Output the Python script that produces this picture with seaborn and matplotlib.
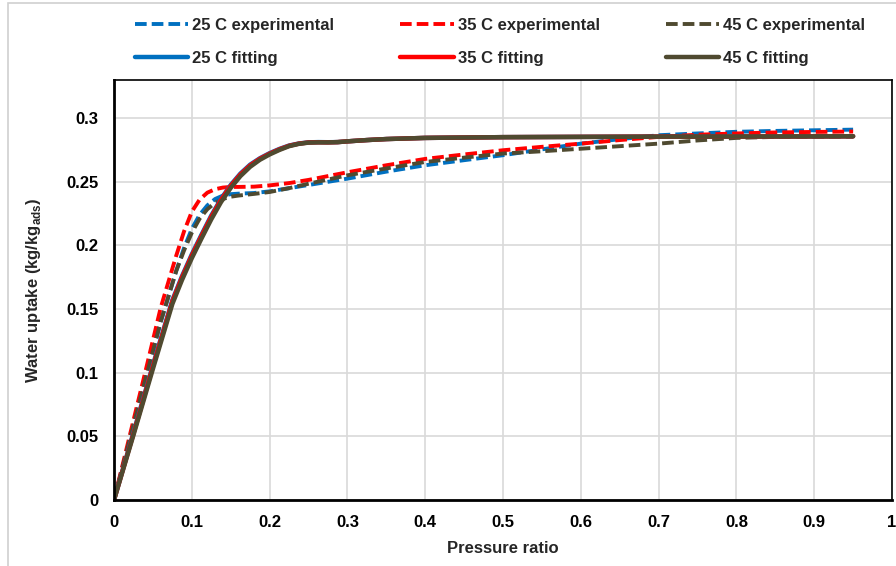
import seaborn as sns
import pandas as pd
import matplotlib.pyplot as plt
from matplotlib.patches import Rectangle

# experimental isotherms
p_exp = [0, 0.02, 0.04, 0.06, 0.08, 0.09, 0.1, 0.11, 0.12, 0.13, 0.14, 0.15, 0.16, 0.18, 0.2,
         0.225, 0.25, 0.3, 0.35, 0.4, 0.45, 0.5, 0.55, 0.6, 0.65, 0.7, 0.75, 0.8, 0.85, 0.9, 0.95]
exp_25 = [0, 0.046, 0.093, 0.14, 0.18, 0.198, 0.213, 0.224, 0.2315, 0.2365, 0.2392, 0.2403, 0.2407,
          0.2412, 0.2425, 0.245, 0.2475, 0.2525, 0.258, 0.263, 0.267, 0.2709, 0.2755, 0.280,
          0.2835, 0.2866, 0.288, 0.2893, 0.290, 0.2905, 0.291]
exp_35 = [0, 0.05, 0.1, 0.151, 0.192, 0.211, 0.2265, 0.236, 0.2415, 0.2442, 0.2455, 0.246, 0.246,
          0.2462, 0.2472, 0.249, 0.2515, 0.2575, 0.263, 0.268, 0.2715, 0.2748, 0.2775, 0.280,
          0.2828, 0.2853, 0.287, 0.288, 0.2888, 0.2892, 0.2895]
exp_45 = [0, 0.047, 0.094, 0.14, 0.18, 0.196, 0.21, 0.221, 0.2285, 0.2335, 0.2365, 0.2383, 0.2392,
          0.2405, 0.242, 0.245, 0.2485, 0.2551, 0.2605, 0.2656, 0.269, 0.2722, 0.274, 0.276,
          0.278, 0.280, 0.2825, 0.2845, 0.2853, 0.2855, 0.2855]

# model fits
p_fit = [0, 0.025, 0.05, 0.075, 0.0875, 0.1, 0.1125, 0.125, 0.1375, 0.15, 0.1625, 0.175, 0.1875,
         0.2, 0.2125, 0.225, 0.2375, 0.25, 0.2625, 0.275, 0.2875, 0.3, 0.325, 0.35, 0.4, 0.5,
         0.6, 0.7, 0.8, 0.9, 0.95]
fit_25 = [0, 0.053, 0.106, 0.157, 0.176, 0.193, 0.2085, 0.2235, 0.2365, 0.2475, 0.2565, 0.2635,
          0.2685, 0.2725, 0.2758, 0.2785, 0.2801, 0.281, 0.2812, 0.2811, 0.2812, 0.2818, 0.2828,
          0.2836, 0.2845, 0.2851, 0.2853, 0.2855, 0.2856, 0.2857, 0.2858]
fit_35 = [0, 0.052, 0.105, 0.156, 0.175, 0.192, 0.2075, 0.2225, 0.2357, 0.2468, 0.2558, 0.2629,
          0.2681, 0.2721, 0.2755, 0.2783, 0.28, 0.2809, 0.2811, 0.281, 0.2812, 0.2818, 0.2828,
          0.2836, 0.2845, 0.2851, 0.2853, 0.2855, 0.2856, 0.2857, 0.2858]
fit_45 = [0, 0.051, 0.103, 0.154, 0.173, 0.19, 0.2055, 0.2205, 0.234, 0.2452, 0.2545, 0.2618,
          0.2673, 0.2715, 0.275, 0.278, 0.2798, 0.2808, 0.281, 0.281, 0.2812, 0.2818, 0.2828,
          0.2836, 0.2845, 0.2851, 0.2853, 0.2855, 0.2856, 0.2857, 0.2858]

colors = {"25": "#0070C0", "35": "#FF0000", "45": "#4F4A30"}

sns.set_theme(style="white")
plt.rcParams["font.family"] = ["Liberation Sans", "DejaVu Sans"]
plt.rcParams["font.weight"] = "bold"
plt.rcParams["mathtext.fontset"] = "custom"
plt.rcParams["mathtext.rm"] = "Liberation Sans:bold"
plt.rcParams["mathtext.bf"] = "Liberation Sans:bold"

fig = plt.figure(figsize=(8.96, 5.66), dpi=100)
ax = fig.add_axes([114 / 896, 66 / 566, 778 / 896, 420 / 566])

# chart frame (only left and top edges fall inside the picture)
fig.patches.append(Rectangle((8 / 896, -0.1), 1.2, 1.1 - 3 / 566, transform=fig.transFigure,
                             fill=False, edgecolor="#D0D0D0", lw=1.2, zorder=-1))

dash = (0, (3, 1.3))
for t, y in [("25", exp_25), ("35", exp_35), ("45", exp_45)]:
    sns.lineplot(x=p_exp, y=y, ax=ax, color=colors[t], lw=2.8, linestyle=dash,
                 label=f"{t} C experimental")
for t, y in [("25", fit_25), ("35", fit_35), ("45", fit_45)]:
    sns.lineplot(x=p_fit, y=y, ax=ax, color=colors[t], lw=3.2, label=f"{t} C fitting")

ax.set_xlim(0, 1)
ax.set_ylim(0, 0.33)
ax.set_xticks([i / 10 for i in range(11)])
ax.set_xticklabels(["0"] + [f"{i / 10:g}" for i in range(1, 10)] + ["1"])
ax.set_yticks([0, 0.05, 0.1, 0.15, 0.2, 0.25, 0.3])
ax.set_yticklabels(["0", "0.05", "0.1", "0.15", "0.2", "0.25", "0.3"])
ax.tick_params(axis="y", length=0, labelsize=12, pad=11, colors="black")
ax.tick_params(axis="x", length=0, labelsize=12, pad=11, colors="black")
for lab in ax.get_xticklabels() + ax.get_yticklabels():
    lab.set_fontweight("bold")

ax.grid(True, color="#D9D9D9", lw=1.2)
ax.set_axisbelow(True)
for s in ax.spines.values():
    s.set_color("black")
    s.set_linewidth(1.2)
ax.spines["left"].set_linewidth(2)
ax.spines["bottom"].set_linewidth(2)

ax.set_xlabel("Pressure ratio", fontsize=12, fontweight="bold", labelpad=8)
ax.set_ylabel(r"Water uptake (kg/kg$_{\mathrm{ads}}$)", fontsize=12, fontweight="bold", labelpad=17)

h, l = ax.get_legend_handles_labels()
ax.get_legend().remove()
order = [0, 3, 1, 4, 2, 5]
leg = fig.legend([h[i] for i in order], [l[i] for i in order], ncol=3, frameon=False,
                 loc="upper left", bbox_to_anchor=(135 / 896, 1 - 18 / 566), borderpad=0,
                 borderaxespad=0, handlelength=3.2, handletextpad=0.25, columnspacing=3.95,
                 labelspacing=1.05, prop={"weight": "bold", "size": 12})

fig.savefig("out.png", dpi=100)
